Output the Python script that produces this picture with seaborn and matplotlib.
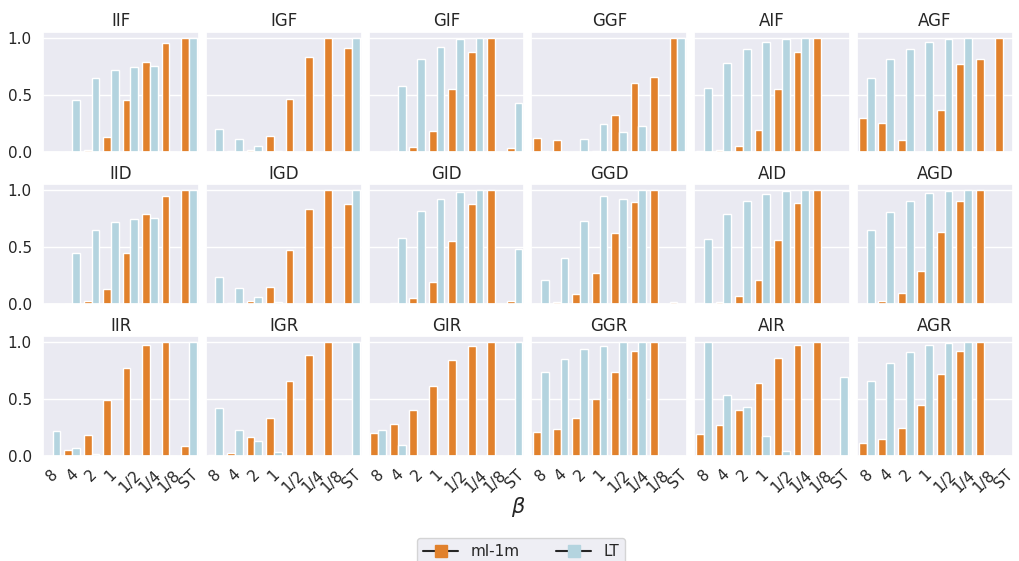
import pandas as pd
import matplotlib
matplotlib.use('Agg')
import matplotlib.pyplot as plt
from matplotlib.lines import Line2D
import seaborn as sns

# Beta values on the x axis
betas = ['8', '4', '2', '1', '1/2', '1/4', '1/8', 'ST']

# Panel names, row by row
panels = ['IIF', 'IGF', 'GIF', 'GGF', 'AIF', 'AGF',
          'IID', 'IGD', 'GID', 'GGD', 'AID', 'AGD',
          'IIR', 'IGR', 'GIR', 'GGR', 'AIR', 'AGR']

# ml-1m values per panel
ml1m = {
    'IIF': [0, 0, 0.02, 0.13, 0.45, 0.79, 0.95, 1.0],
    'IGF': [0, 0.005, 0.02, 0.14, 0.46, 0.83, 1.0, 0.91],
    'GIF': [0, 0.005, 0.045, 0.18, 0.55, 0.875, 1.0, 0.035],
    'GGF': [0.12, 0.1, 0, 0.005, 0.325, 0.605, 0.655, 1.0],
    'AIF': [0.005, 0.012, 0.047, 0.19, 0.553, 0.877, 1.0, 0],
    'AGF': [0.3, 0.25, 0.1, 0, 0.37, 0.765, 0.81, 1.0],
    'IID': [0, 0, 0.026, 0.134, 0.448, 0.79, 0.95, 1.0],
    'IGD': [0, 0.005, 0.029, 0.145, 0.47, 0.83, 1.0, 0.878],
    'GID': [0, 0.01, 0.055, 0.195, 0.552, 0.878, 1.0, 0.03],
    'GGD': [0, 0.017, 0.09, 0.273, 0.622, 0.895, 1.0, 0.017],
    'AID': [0.005, 0.017, 0.067, 0.21, 0.564, 0.884, 1.0, 0],
    'AGD': [0, 0.026, 0.099, 0.288, 0.634, 0.904, 1.0, 0],
    'IIR': [0, 0.056, 0.184, 0.49, 0.775, 0.977, 1.0, 0.09],
    'IGR': [0.01, 0.03, 0.167, 0.33, 0.658, 0.883, 1.0, 0],
    'GIR': [0.205, 0.284, 0.4, 0.617, 0.842, 0.965, 1.0, 0],
    'GGR': [0.21, 0.24, 0.333, 0.503, 0.74, 0.924, 1.0, 0],
    'AIR': [0.19, 0.275, 0.4, 0.637, 0.86, 0.974, 1.0, 0],
    'AGR': [0.114, 0.149, 0.246, 0.447, 0.722, 0.921, 1.0, 0],
}

# LT values per panel
lt = {
    'IIF': [0, 0.45, 0.65, 0.72, 0.745, 0.755, 0, 1.0],
    'IGF': [0.2, 0.115, 0.055, 0.01, 0, 0, 0, 1.0],
    'GIF': [0, 0.58, 0.81, 0.92, 0.99, 1.0, 0, 0.43],
    'GGF': [0.01, 0, 0.11, 0.245, 0.175, 0.23, 0, 1.0],
    'AIF': [0.56, 0.78, 0.9, 0.965, 0.99, 1.0, 0, 0],
    'AGF': [0.645, 0.81, 0.9, 0.965, 0.99, 1.0, 0, 0],
    'IID': [0, 0.45, 0.648, 0.715, 0.741, 0.753, 0, 1.0],
    'IGD': [0.233, 0.137, 0.064, 0.02, 0, 0, 0, 1.0],
    'GID': [0, 0.578, 0.814, 0.92, 0.983, 1.0, 0, 0.48],
    'GGD': [0.212, 0.404, 0.727, 0.945, 0.92, 1.0, 0, 0],
    'AID': [0.567, 0.788, 0.904, 0.962, 0.988, 1.0, 0, 0],
    'AGD': [0.648, 0.81, 0.904, 0.968, 0.988, 1.0, 0, 0],
    'IIR': [0.22, 0.067, 0.018, 0.003, 0.003, 0, 0, 1.0],
    'IGR': [0.42, 0.23, 0.13, 0.04, 0.003, 0, 0, 1.0],
    'GIR': [0.228, 0.094, 0, 0, 0, 0, 0, 1.0],
    'GGR': [0.737, 0.85, 0.94, 0.965, 1.0, 1.0, 0, 0],
    'AIR': [1.0, 0.535, 0.43, 0.175, 0.044, 0, 0, 0.693],
    'AGR': [0.658, 0.816, 0.909, 0.974, 0.994, 1.0, 0, 0],
}

palette = {'ml-1m': 'tab:orange', 'LT': 'lightblue'}

sns.set_theme(style='darkgrid')

fig, axes = plt.subplots(3, 6, figsize=(10.2, 5.61), dpi=100, sharex=True, sharey=True)
fig.subplots_adjust(left=0.042, right=0.993, top=0.943, bottom=0.187,
                    wspace=0.045, hspace=0.27)

for ax, name in zip(axes.flat, panels):
    df = pd.DataFrame({
        'beta': betas * 2,
        'value': ml1m[name] + lt[name],
        'dataset': ['ml-1m'] * len(betas) + ['LT'] * len(betas),
    })
    sns.barplot(data=df, x='beta', y='value', hue='dataset', order=betas,
                hue_order=['ml-1m', 'LT'], palette=palette, legend=False, ax=ax)
    ax.set_title(name, fontsize=12, pad=4)
    ax.set_xlabel('')
    ax.set_ylabel('')
    ax.set_yticks([0, 0.5, 1.0])
    ax.tick_params(axis='x', labelrotation=45)
    ax.tick_params(labelsize=11, pad=2)

fig.text(0.508, 0.096, r'$\beta$', ha='center', va='center', fontsize=15)

# legend handles: dark line with a coloured square, as in the original
pal_sat = sns.color_palette([palette['ml-1m'], palette['LT']], desat=0.75)
handles = [Line2D([], [], color='.15', marker='s', markersize=8,
                  markerfacecolor=c, markeredgecolor=c) for c in pal_sat]
fig.legend(handles, ['ml-1m', 'LT'], loc='upper center', bbox_to_anchor=(0.511, 0.055),
           ncol=2, fontsize=11, handlelength=2.3, columnspacing=2.4)

plt.savefig('out.png')
